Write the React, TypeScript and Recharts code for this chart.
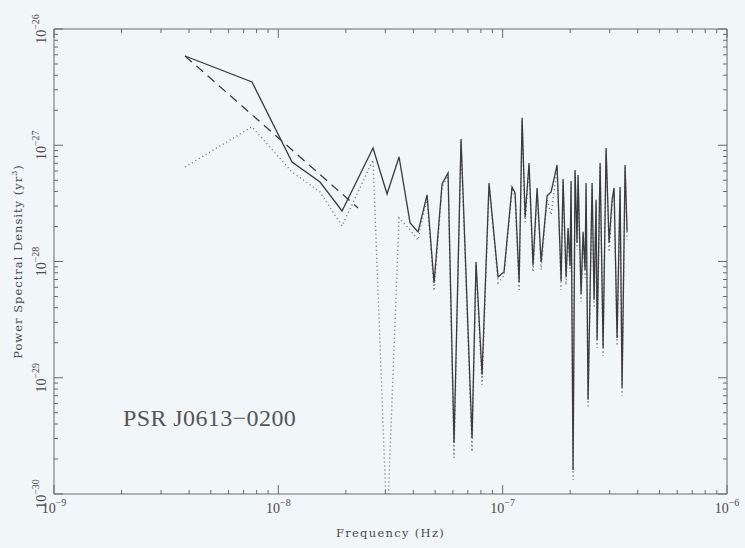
import React from 'react';
import { LineChart, Line, XAxis, YAxis, ReferenceLine } from 'recharts';

// Fourier frequencies of the spectrum (Hz)
const freqHz = [
  3.84e-9, 7.63e-9, 1.151e-8, 1.534e-8, 1.923e-8, 2.644e-8, 3.052e-8, 3.452e-8,
  3.866e-8, 4.196e-8, 4.603e-8, 4.945e-8, 5.368e-8, 5.709e-8, 6.07e-8, 6.523e-8,
  7.302e-8, 7.608e-8, 8.093e-8, 8.695e-8, 9.539e-8, 1.014e-7, 1.101e-7, 1.136e-7,
  1.184e-7, 1.221e-7, 1.259e-7, 1.311e-7, 1.366e-7, 1.424e-7, 1.484e-7, 1.578e-7,
  1.644e-7, 1.748e-7, 1.822e-7, 1.859e-7, 1.917e-7, 1.957e-7, 1.997e-7, 2.018e-7,
  2.06e-7, 2.102e-7, 2.146e-7, 2.168e-7, 2.236e-7, 2.283e-7, 2.33e-7, 2.354e-7,
  2.403e-7, 2.504e-7, 2.556e-7, 2.609e-7, 2.636e-7, 2.719e-7, 2.803e-7, 2.891e-7,
  2.981e-7, 3.074e-7, 3.138e-7, 3.236e-7, 3.337e-7, 3.406e-7, 3.513e-7, 3.586e-7,
];

// Power spectral density of the timing residuals (yr^3), solid curve
const psdResiduals = [
  5.86e-27, 3.5e-27, 7.18e-28, 4.83e-28, 2.72e-28, 9.48e-28, 3.81e-28, 7.93e-28,
  2.15e-28, 1.8e-28, 3.74e-28, 6.55e-29, 4.65e-28, 5.78e-28, 2.76e-30, 1.13e-27,
  3.04e-30, 9.92e-29, 1.06e-29, 4.74e-28, 7.37e-29, 8.14e-29, 4.38e-28, 3.89e-28,
  6.68e-29, 1.72e-27, 2.42e-28, 7.04e-28, 9.35e-29, 4.29e-28, 9.92e-29, 3.67e-28,
  3.97e-28, 6.77e-28, 6.81e-29, 5.13e-28, 7.37e-29, 1.94e-28, 9.17e-29, 4.93e-28,
  1.61e-30, 6.13e-28, 1.45e-28, 5.55e-28, 5.26e-29, 1.8e-28, 8.47e-29, 4.74e-28,
  6.46e-30, 4.74e-28, 4.68e-29, 3.39e-28, 2.12e-29, 7.04e-28, 1.81e-29, 9.48e-28,
  1.45e-28, 3.39e-28, 4.29e-28, 2.2e-29, 4.38e-28, 8.19e-30, 6.77e-28, 1.8e-28,
];

// Spectrum after whitening (yr^3), dotted curve
const psdWhitened = [
  6.51e-28, 1.44e-27, 5.89e-28, 3.97e-28, 2.02e-28, 7.47e-28, 4.9e-31, 2.37e-28,
  1.87e-28, 1.53e-28, 3.52e-28, 5.59e-29, 4.38e-28, 5.45e-28, 2.05e-30, 1.07e-27,
  2.31e-30, 9.17e-29, 8.69e-30, 4.47e-28, 6.55e-29, 7.52e-29, 4.13e-28, 3.67e-28,
  5.7e-29, 1.59e-27, 2.19e-28, 6.64e-28, 8.14e-29, 3.97e-28, 8.47e-29, 3.39e-28,
  2.52e-28, 6.38e-28, 5.7e-29, 4.83e-28, 6.29e-29, 1.8e-28, 8.14e-29, 4.65e-28,
  1.32e-30, 5.78e-28, 1.26e-28, 5.23e-28, 4.49e-29, 1.66e-28, 7.23e-29, 4.47e-28,
  5.51e-30, 4.47e-28, 3.99e-29, 3.19e-28, 1.81e-29, 6.64e-28, 1.54e-29, 8.93e-28,
  1.21e-28, 3.07e-28, 4.05e-28, 1.88e-29, 4.13e-28, 6.99e-30, 6.38e-28, 1.53e-28,
];

// Red-noise power-law model, dashed curve
const freqModel = [3.84e-9, 2.266e-8];
const psdModel = [5.86e-27, 2.89e-28];

// Axis decades and minor-tick mantissas
const xDecades = [1e-9, 1e-8, 1e-7];
const xEnd = 1e-6;
const yDecades = [1e-30, 1e-29, 1e-28, 1e-27];
const yEnd = 1e-26;
const mantissas = [1, 2, 3, 4, 5, 6, 7, 8, 9];

const pulsarName = 'PSR J0613\u22120200';
const xTitle = 'Frequency (Hz)';
const yTitle = 'Power Spectral Density (yr';

const W = 745;
const H = 548;
const M_TOP = 29;
const M_RIGHT = 18;
const Y_AXIS_W = 54;
const X_AXIS_H = 54;
const PLOT_W = W - Y_AXIS_W - M_RIGHT;
const PLOT_H = H - M_TOP - X_AXIS_H;

const INK = '#3b3b3b';
const TEXT = '#4a4a4a';
const FRAME = '#6a6a6a';
const BG = '#f1f6f9';

const buildTicks = (decades: number[], end: number) => {
  const t: number[] = [];
  decades.forEach((d) => mantissas.forEach((m) => t.push(m * d)));
  t.push(end);
  return t;
};
const xTicks = buildTicks(xDecades, xEnd);
const yTicks = buildTicks(yDecades, yEnd);

const decadeInfo = (v: number) => {
  const exp = Math.round(Math.log10(v));
  const major = Math.abs(v / Math.pow(10, exp) - 1) < 1e-6;
  return { exp, major };
};

const toSeries = (fs: number[], ps: number[]) => fs.map((f, i) => ({ f, p: ps[i] }));
const residualData = toSeries(freqHz, psdResiduals);
const whitenedData = toSeries(freqHz, psdWhitened);
const modelData = toSeries(freqModel, psdModel);

const labelFont = "'Liberation Serif', 'Times New Roman', serif";
const titleFont = "'DejaVu Serif', serif";

const BottomTick = (props: any) => {
  const { x, y, payload } = props;
  const { exp, major } = decadeInfo(payload.value);
  const len = major ? 9 : 4;
  return (
    <g>
      <line x1={x} y1={y} x2={x} y2={y - len} stroke={FRAME} strokeWidth={1} />
      <line x1={x} y1={y - PLOT_H} x2={x} y2={y - PLOT_H + len} stroke={FRAME} strokeWidth={1} />
      {major && (
        <text x={x} y={y + 19} textAnchor="middle" fontFamily={labelFont} fontSize={14} fill={TEXT}>
          10
          <tspan dy={-7} fontSize={10}>{'\u2212' + Math.abs(exp)}</tspan>
        </text>
      )}
    </g>
  );
};

const LeftTick = (props: any) => {
  const { x, y, payload } = props;
  const { exp, major } = decadeInfo(payload.value);
  const len = major ? 9 : 4;
  const tx = x - 8;
  return (
    <g>
      <line x1={x} y1={y} x2={x + len} y2={y} stroke={FRAME} strokeWidth={1} />
      <line x1={x + PLOT_W} y1={y} x2={x + PLOT_W - len} y2={y} stroke={FRAME} strokeWidth={1} />
      {major && (
        <text
          x={tx}
          y={y}
          transform={`rotate(-90, ${tx}, ${y})`}
          textAnchor="middle"
          fontFamily={labelFont}
          fontSize={14}
          fill={TEXT}
        >
          10
          <tspan dy={-7} fontSize={10}>{'\u2212' + Math.abs(exp)}</tspan>
        </text>
      )}
    </g>
  );
};

export default function App() {
  return (
    <div style={{ position: 'absolute', left: 0, top: 0, width: W, height: H, background: BG }}>
      <LineChart width={W} height={H} margin={{ top: M_TOP, right: M_RIGHT, left: 0, bottom: 0 }}>
        <XAxis
          dataKey="f"
          type="number"
          scale="log"
          domain={[xDecades[0], xEnd]}
          allowDataOverflow
          ticks={xTicks}
          interval={0}
          height={X_AXIS_H}
          tickSize={0}
          tickMargin={0}
          tickLine={false}
          axisLine={{ stroke: FRAME, strokeWidth: 1 }}
          tick={<BottomTick />}
        />
        <YAxis
          type="number"
          scale="log"
          domain={[yDecades[0], yEnd]}
          allowDataOverflow
          ticks={yTicks}
          interval={0}
          width={Y_AXIS_W}
          tickSize={0}
          tickMargin={0}
          tickLine={false}
          axisLine={{ stroke: FRAME, strokeWidth: 1 }}
          tick={<LeftTick />}
        />
        <ReferenceLine x={xEnd} stroke={FRAME} strokeWidth={1} />
        <ReferenceLine y={yEnd} stroke={FRAME} strokeWidth={1} />
        <Line
          data={whitenedData}
          dataKey="p"
          stroke="#6f6f6f"
          strokeWidth={1.4}
          strokeDasharray="1 3"
          dot={false}
          isAnimationActive={false}
        />
        <Line
          data={modelData}
          dataKey="p"
          stroke={INK}
          strokeWidth={1.3}
          strokeDasharray="9 6"
          dot={false}
          isAnimationActive={false}
        />
        <Line
          data={residualData}
          dataKey="p"
          stroke={INK}
          strokeWidth={1.3}
          dot={false}
          isAnimationActive={false}
        />
        <text x={123} y={426} fontFamily={labelFont} fontSize={24} letterSpacing={0.4} fill="#555">
          {pulsarName}
        </text>
        <text
          x={Y_AXIS_W + PLOT_W / 2}
          y={537}
          textAnchor="middle"
          fontFamily={titleFont}
          fontSize={11.5}
          letterSpacing={1.3}
          fill={TEXT}
        >
          {xTitle}
        </text>
        <text
          x={22}
          y={M_TOP + PLOT_H / 2}
          transform={`rotate(-90, 22, ${M_TOP + PLOT_H / 2})`}
          textAnchor="middle"
          fontFamily={titleFont}
          fontSize={11.5}
          letterSpacing={1}
          fill={TEXT}
        >
          {yTitle}
          <tspan dy={-5} fontSize={8}>3</tspan>
          <tspan dy={5}>)</tspan>
        </text>
      </LineChart>
    </div>
  );
}
